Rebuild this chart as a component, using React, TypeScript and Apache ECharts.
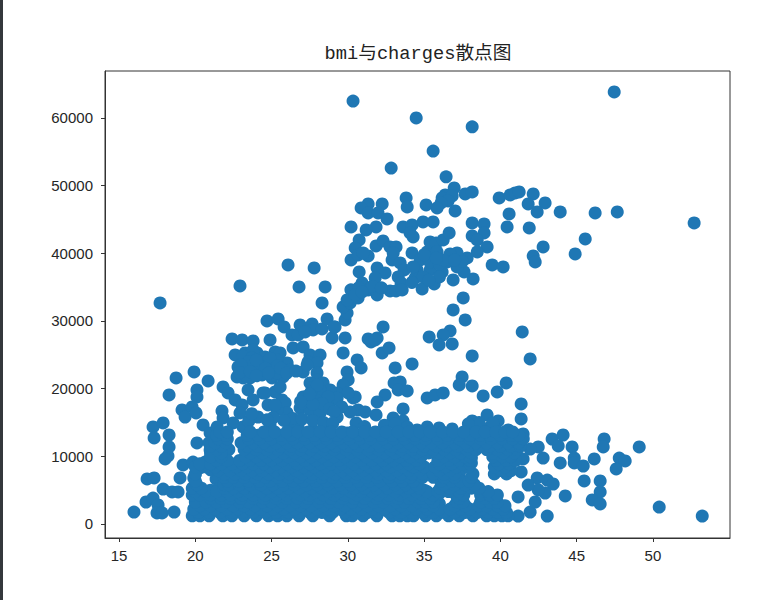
import React, { useEffect, useRef } from "react";
import * as echarts from "echarts";

const chartTitle = "bmi与charges散点图";
const xTickValues = [15, 20, 25, 30, 35, 40, 45, 50];
const yTickValues = [0, 10000, 20000, 30000, 40000, 50000, 60000];

// [bmi, charges]
const upperCluster = [
  [30.34, 62500], [34.48, 60000], [38.15, 58700], [47.46, 63850], [35.59, 55100], [32.84, 52600], [36.44, 51300],
  [36.97, 49660], [37.69, 48770], [38.15, 49070], [36.38, 48630], [36.18, 48180], [36.84, 48480], [36.57, 47740],
  [36.11, 47440], [37.03, 46260], [35.85, 46700], [35.13, 47150], [33.82, 48180], [33.89, 46850], [32.25, 47300],
  [31.33, 47300], [30.87, 46700], [31.33, 45970], [31.98, 45970], [32.57, 45080], [30.21, 43900], [31.85, 43900],
  [31.2, 43450], [30.74, 41980], [30.48, 40790], [30.21, 39020], [30.67, 39760], [31.33, 39610], [31.0, 40050],
  [31.85, 41090], [32.31, 41830], [32.77, 40940], [33.16, 40940], [32.9, 39020], [32.97, 40050], [33.43, 38580],
  [33.69, 37540], [33.3, 36510], [33.49, 35620], [30.74, 37250], [31.92, 37840], [32.44, 37100], [31.79, 36360],
  [30.93, 35620], [31.33, 34590], [31.92, 33850], [32.77, 34440], [33.16, 34440], [33.56, 34590], [34.87, 34730],
  [35.66, 35470], [36.9, 36060], [38.21, 36210], [37.62, 37250], [37.16, 37980], [36.18, 37250], [35.39, 37540],
  [34.41, 36360], [34.54, 37540], [34.93, 36510], [34.21, 40050], [34.74, 39020], [34.28, 37980], [35.2, 40200],
  [35.39, 41680], [35.79, 41530], [36.25, 41980], [36.64, 43010], [33.62, 43900], [34.21, 44190], [34.08, 43010],
  [34.28, 42420], [34.93, 44630], [35.59, 44630], [38.15, 44490], [38.93, 44340], [38.93, 43010], [38.15, 42570],
  [38.48, 41980], [39.13, 40940], [38.48, 40200], [37.82, 39310], [37.16, 40050], [36.7, 39910], [36.51, 38720],
  [35.85, 40200], [35.39, 38720], [39.46, 38280], [40.18, 37980], [39.92, 48180], [40.64, 48630], [40.97, 48920],
  [41.23, 49070], [42.15, 48770], [41.82, 47300], [42.93, 47440], [42.41, 46110], [43.92, 46110], [46.21, 45970],
  [47.66, 46110], [52.7, 44490], [40.57, 45820], [40.44, 43900], [41.89, 43750], [42.8, 40940], [42.15, 39610],
  [42.28, 38720], [44.9, 39910], [45.56, 42120], [36.0, 38400],
  [36.3, 39000], [35.0, 39800], [35.8, 39300], [36.0, 36500], [35.3, 36000], [34.2, 35700], [31.6, 35100],
  [32.2, 34900], [30.2, 34600], [30.7, 34900], [37.5, 38800], [37.0, 39000],
];

const middleRight = [
  [37.56, 33400], [36.9, 31630], [37.69, 30150], [41.43, 28380], [32.31, 29120], [35.33, 27640], [36.7, 28530],
  [36.25, 27930], [35.98, 26460], [36.84, 26600], [31.92, 27490], [31.33, 27340], [31.52, 26900], [29.82, 27490],
  [29.82, 30150], [29.95, 31190], [29.69, 32070], [30.15, 32660], [30.28, 33550], [30.67, 33400], [29.95, 33110],
  [30.48, 33850], [30.93, 34290], [29.16, 29120], [28.97, 27490], [31.79, 27190], [32.25, 25270], [32.7, 26010],
  [33.1, 23060], [34.21, 23650], [33.03, 20840], [33.43, 20990], [33.3, 19810], [33.89, 19660], [32.44, 19070],
  [31.92, 18030], [31.85, 16110], [33.62, 17000], [32.97, 15670], [33.62, 15220], [30.54, 14930], [30.67, 16850],
  [30.15, 16550], [31.13, 16550], [29.3, 15810], [30.34, 18620], [35.2, 18620], [35.72, 19070], [36.25, 19360],
  [37.49, 21730], [37.3, 20540], [38.15, 20400], [38.87, 18920], [39.79, 19510], [40.38, 20840], [38.15, 24830],
  [41.95, 24390], [41.36, 17740], [41.36, 15520], [41.49, 13300], [39.13, 16110], [38.15, 15220], [39.85, 15220],
  [40.51, 13890], [35.2, 14340], [35.98, 14190], [36.84, 14040], [38.15, 14340], [39.33, 14340], [39.66, 14040],
  [38.6, 15000], [39.5, 14900], [37.9, 14800], [32.4, 14600], [33.1, 14800], [33.9, 14300], [31.1, 14400],
];

const middleLeft = [
  [17.69, 32660], [22.93, 35180], [26.08, 38280], [27.79, 37840], [26.8, 35030], [28.51, 35030], [28.31, 32660],
  [24.7, 30000], [25.43, 30300], [25.82, 29120], [26.34, 27930], [26.74, 27930], [26.87, 29410], [27.66, 29560],
  [27.72, 28670], [28.31, 28820], [28.64, 30300], [29.1, 29120], [27.2, 28380], [22.41, 27340], [23.07, 27200],
  [23.79, 27050], [24.9, 27200], [26.41, 26010], [27.07, 26160], [27.52, 24980], [28.18, 24980], [27.39, 23940],
  [27.98, 23800], [22.61, 24980], [23.26, 25270], [24.05, 25270], [25.23, 25420], [23.79, 25720], [24.57, 24680],
  [25.56, 25270], [26.02, 23800], [23.13, 24830], [23.72, 24530], [24.44, 23800], [24.9, 23800], [24.05, 23200],
  [25.1, 22760], [24.38, 22020], [25.03, 21580], [23.59, 21580], [22.8, 23200], [22.74, 21730], [23.13, 21580],
  [25.75, 21730], [23.39, 21730], [24.44, 22320], [25.36, 22320], [26.21, 22760], [27.07, 22470], [27.98, 22320],
  [27.33, 23500], [25.36, 24240], [29.69, 25270], [30.61, 24240], [30.87, 23060], [29.95, 22470], [30.02, 21280],
  [29.69, 20540], [29.3, 19360], [30.48, 18770], [30.02, 19360], [27.98, 21280], [27.52, 20840], [28.38, 20840],
  [28.84, 19810], [27.2, 18770], [27.72, 18770], [28.38, 18770], [29.03, 18330], [27.39, 17290], [28.05, 17290],
  [28.64, 17880], [26.87, 17140], [27.52, 16850], [28.18, 16410], [29.3, 18620], [27.66, 20100], [28.18, 19810],
  [27.07, 18770], [21.82, 20250], [22.15, 19360], [22.61, 18330], [23.07, 17590], [23.79, 18330], [24.44, 19360],
  [25.23, 19510], [25.56, 20250], [25.69, 18330], [23.46, 19810], [24.57, 19360], [25.89, 17880], [21.75, 16700],
  [21.82, 15670], [22.93, 16410], [24.11, 15810], [26.02, 16410], [23.13, 14340], [22.48, 14930], [25.36, 16850],
  [24.77, 17590], [25.23, 17590], [24.9, 14630], [26.41, 14480], [26.74, 14340], [27.72, 13890], [28.84, 14340],
  [29.95, 13450], [34.54, 13890],
  [23.5, 24000], [24.0, 24200], [24.9, 24500], [23.0, 23500], [24.6, 23000], [25.4, 23400],
  [22.9, 22400], [23.6, 22500], [24.0, 21900], [24.8, 22300], [25.6, 23000], [26.0, 22300],
  [26.6, 22600], [27.6, 19500], [28.0, 18200], [27.0, 17900], [28.7, 18800], [28.3, 17800], [27.7, 17700],
  [28.0, 20500], [27.5, 19200], [26.9, 18100], [28.8, 17000], [29.6, 17300], [29.1, 16600], [26.4, 15600],
  [27.0, 15500], [27.7, 15300], [28.4, 15000], [29.0, 14900], [25.8, 15300], [25.1, 15700], [24.7, 15400],
  [23.5, 15200], [23.7, 16300],
];

const leftEdge = [
  [15.98, 1770], [16.77, 3250], [17.23, 3840], [17.56, 2810], [17.49, 1630], [17.82, 1630], [18.61, 1770],
  [16.84, 6650], [17.3, 6800], [17.89, 5170], [18.48, 4730], [18.87, 4730], [17.23, 14340], [17.89, 14930],
  [17.3, 12710], [18.28, 13150], [18.28, 11380], [18.21, 10050], [18.02, 9610], [20.11, 11970], [20.51, 14630],
  [18.74, 21580], [19.92, 22470], [20.84, 21140], [18.28, 19070], [20.11, 19810], [20.11, 18770], [19.13, 16850],
  [19.33, 15810], [19.79, 17290], [20.05, 16410], [19.0, 6800], [19.2, 8720], [19.85, 9160], [20.64, 9160],
  [20.97, 10940], [20.97, 13450], [21.43, 14340], [19.98, 7240], [21.36, 6650],
  [21.0, 5000], [21.5, 5200], [20.0, 6000], [19.9, 6800], [20.3, 8300], [21.0, 8000], [22.4, 7400], [22.3, 6400],
  [21.9, 6200], [20.9, 12000], [21.5, 10200], [21.2, 9300], [20.9, 9400], [21.0, 10500], [21.6, 12300], [22.2, 11000],
];

const rightEdge = [
  [43.39, 12560], [44.11, 13150], [43.79, 11530], [44.7, 11380], [46.8, 12560], [46.74, 11380], [49.1, 11380],
  [42.48, 11380], [41.95, 11080], [42.8, 9750], [41.49, 9610], [43.92, 9020], [44.84, 9750], [44.84, 9020],
  [45.43, 8570], [46.15, 9610], [47.79, 9750], [48.18, 9310], [47.59, 8130], [45.49, 6360], [46.54, 6360],
  [46.54, 4730], [46.02, 3550], [46.54, 2960], [44.25, 4140], [43.07, 1180], [41.95, 1770], [41.16, 1180],
  [41.16, 3990], [42.28, 3250], [42.41, 6800], [43.07, 6500], [43.46, 5910], [42.93, 4580], [42.48, 5030],
  [41.82, 5760], [41.36, 7690], [50.41, 2510], [53.23, 1180],
];

const holeEdges = [
  [38.0, 6000], [37.3, 7200], [37.4, 8000], [38.1, 9000], [38.1, 9800], [36.0, 10000], [35.7, 10500], [36.1, 9800],
  [36.2, 8000], [35.9, 7500], [34.9, 7600], [35.0, 5000], [36.0, 3000], [37.0, 4700], [36.0, 4500], [38.9, 2000],
];

// Dense lower mass: bmi readings grouped by the charges level they sit on.
const bmiAt1200 = [19.8, 20.3, 20.9, 21.8, 22.4, 23.2, 24.0, 24.8, 25.4, 26.0, 26.8, 27.7, 28.8, 29.9, 30.3, 31.0, 31.9, 32.9, 33.4, 33.9, 34.3, 35.1, 35.8, 36.6, 37.3, 38.2, 39.1, 39.6, 40.1, 40.5];
const bmiAt1700 = [20.2, 20.9, 21.6, 22.4, 23.1, 23.8, 24.6, 25.3, 26.1, 26.8, 27.5, 28.3, 29.0, 29.8, 30.5, 31.3, 32.0, 32.7, 33.5, 34.2, 34.9, 35.6, 36.3, 37.0, 37.7, 38.5, 39.2, 39.8, 40.4];
const bmiAt2200 = [19.9, 20.6, 21.3, 22.1, 22.8, 23.6, 24.3, 25.1, 25.8, 26.5, 27.3, 28.0, 28.7, 29.5, 30.2, 30.9, 31.6, 32.4, 33.1, 33.8, 34.5, 35.2, 36.0, 36.7, 37.4, 38.0, 38.8, 39.5, 40.2];
const bmiAt2700 = [20.3, 21.0, 21.7, 22.5, 23.2, 23.9, 24.7, 25.4, 26.2, 26.9, 27.6, 28.4, 29.1, 29.8, 30.6, 31.3, 32.0, 32.8, 33.5, 34.2, 35.0, 35.6, 37.0, 37.7, 38.6, 39.1, 39.8, 40.3];
const bmiAt3250 = [20.0, 20.7, 21.4, 22.0, 22.9, 23.5, 24.4, 25.0, 25.7, 26.6, 27.2, 28.1, 28.8, 29.4, 30.3, 31.0, 31.7, 32.3, 33.2, 33.7, 34.6, 35.1, 35.6, 37.15, 37.56, 38.7, 39.3, 39.8];
const bmiAt3800 = [21.0, 21.7, 22.3, 23.0, 23.8, 24.5, 25.3, 26.0, 26.7, 27.4, 28.2, 28.9, 29.7, 30.4, 31.1, 31.9, 32.6, 33.3, 34.0, 34.8, 35.4, 37.3, 39.0, 39.6];
const bmiAt4300 = [19.8, 20.3, 21.0, 21.7, 22.3, 23.1, 23.8, 24.6, 25.3, 26.0, 26.9, 27.5, 28.4, 29.1, 29.8, 30.6, 31.3, 32.0, 32.7, 33.4, 34.2, 34.9, 35.6, 37.1, 37.6, 38.7, 39.3, 39.8];
const bmiAt4800 = [20.0, 20.7, 21.4, 22.1, 22.8, 23.5, 24.3, 25.0, 25.7, 26.5, 27.2, 27.9, 28.7, 29.4, 30.2, 30.9, 31.6, 32.3, 33.1, 33.8, 34.5, 35.2, 35.9, 36.6, 37.3, 38.7, 39.2];
const bmiAt5300 = [19.8, 20.4, 21.9, 22.5, 23.2, 23.9, 24.7, 25.4, 26.1, 26.8, 27.6, 28.3, 29.0, 29.7, 30.4, 31.1, 31.9, 32.6, 33.3, 34.0, 34.7, 36.05, 36.7, 37.4, 38.1, 38.6];
const bmiAt5800 = [20.1, 21.9, 22.2, 22.9, 23.6, 24.3, 25.1, 25.8, 26.5, 27.3, 28.0, 28.7, 29.5, 30.2, 30.9, 31.7, 32.4, 33.1, 33.8, 34.5, 36.3, 37.0, 37.7, 38.3];
const bmiAt6350 = [20.0, 22.1, 22.8, 23.5, 24.2, 24.9, 25.7, 26.4, 27.1, 27.9, 28.6, 29.3, 30.0, 30.7, 31.4, 32.1, 32.9, 33.6, 34.3, 36.1, 36.8, 37.36, 37.95];
const bmiAt6900 = [21.9, 22.5, 23.2, 23.9, 24.6, 25.4, 26.1, 26.8, 27.6, 28.3, 29.0, 29.8, 30.5, 31.2, 31.9, 32.7, 33.4, 34.1, 34.9, 35.6, 36.3, 37.0, 38.1];
const bmiAt7400 = [20.0, 21.9, 22.6, 23.3, 24.1, 24.8, 25.5, 26.2, 27.0, 27.7, 28.4, 29.2, 29.9, 30.6, 31.3, 32.0, 32.8, 33.5, 34.2, 34.9, 35.6, 36.3, 37.0, 38.2, 39.6, 40.4];
const bmiAt7900 = [21.5, 22.3, 23.0, 23.7, 24.4, 25.2, 25.9, 26.6, 27.4, 28.1, 28.8, 29.6, 30.3, 31.0, 31.8, 32.5, 33.2, 34.0, 34.7, 36.0, 36.7, 40.0, 40.7];
const bmiAt8450 = [20.0, 20.6, 21.3, 22.0, 22.7, 23.4, 24.2, 24.9, 25.6, 26.3, 27.1, 27.8, 28.5, 29.3, 30.0, 30.7, 31.4, 32.1, 32.8, 33.6, 34.3, 35.0, 35.7, 36.4, 37.1, 37.9, 39.6, 40.3];
const bmiAt8900 = [20.3, 21.0, 21.7, 22.4, 23.1, 23.8, 24.5, 25.3, 26.0, 26.7, 27.5, 28.2, 28.9, 29.6, 30.4, 31.1, 31.8, 32.5, 33.3, 34.0, 34.7, 36.0, 36.8, 37.5, 38.0, 39.9, 40.6];
const bmiAt9400 = [21.4, 22.1, 22.9, 23.6, 24.3, 25.0, 25.7, 26.5, 27.2, 27.9, 28.7, 29.4, 30.1, 30.9, 31.6, 32.3, 33.0, 33.8, 34.5, 35.9, 36.6, 37.3, 38.0, 39.7, 40.4, 41.0];
const bmiAt9950 = [21.0, 21.7, 23.3, 24.0, 24.7, 25.4, 26.1, 26.9, 27.6, 28.3, 29.1, 29.8, 30.5, 31.2, 32.0, 32.7, 33.4, 34.1, 34.8, 36.3, 37.0, 37.7, 38.0, 39.5, 40.1, 40.7];
const bmiAt10500 = [21.7, 23.6, 24.4, 25.1, 25.8, 26.5, 27.3, 28.0, 28.7, 29.5, 30.2, 30.9, 31.6, 32.4, 33.1, 33.8, 34.5, 35.3, 36.0, 36.7, 37.4, 38.1, 39.5, 40.2, 40.9];
const bmiAt11000 = [21.4, 23.2, 24.0, 24.7, 25.4, 26.2, 26.9, 27.6, 28.4, 29.1, 29.9, 30.6, 31.3, 32.0, 32.8, 33.5, 34.2, 34.9, 35.6, 36.3, 37.1, 37.8, 38.4, 39.1, 39.8, 40.5, 41.1];
const bmiAt11500 = [21.0, 21.7, 23.4, 24.1, 24.9, 25.6, 26.3, 27.0, 27.8, 28.5, 29.2, 30.0, 30.7, 31.4, 32.1, 32.9, 33.6, 34.3, 35.0, 35.8, 36.5, 37.2, 37.9, 38.6, 39.3, 40.0, 40.7, 41.3];
const bmiAt12000 = [21.3, 22.0, 23.0, 23.8, 24.5, 25.3, 26.0, 26.7, 27.5, 28.2, 28.9, 29.7, 30.4, 31.1, 31.9, 32.6, 33.3, 34.0, 34.8, 35.5, 36.2, 37.0, 37.7, 38.4, 39.1, 39.8, 40.5, 41.2];
const bmiAt12600 = [21.5, 22.1, 23.5, 24.2, 25.0, 25.7, 26.4, 27.2, 27.9, 28.6, 29.4, 30.1, 30.8, 31.5, 32.3, 33.0, 33.7, 34.4, 35.1, 35.9, 36.6, 37.3, 38.0, 38.7, 39.4, 40.1, 40.8, 41.5];
const bmiAt13100 = [21.4, 22.0, 23.4, 24.1, 24.8, 25.6, 26.3, 27.1, 27.8, 28.5, 29.3, 30.0, 30.7, 31.4, 32.2, 32.9, 33.6, 34.4, 35.1, 35.8, 36.5, 37.3, 38.0, 38.7, 39.3, 40.0, 40.7, 41.2];
const bmiAt13600 = [21.6, 22.1, 23.6, 24.5, 25.2, 26.0, 26.7, 27.4, 28.2, 28.9, 29.6, 30.3, 31.1, 31.8, 32.5, 33.3, 34.0, 34.7, 35.4, 36.2, 36.9, 37.6, 38.4, 39.0, 39.7, 40.3, 40.8];

const denseLevels: [number, number[]][] = [
  [1200, bmiAt1200], [1700, bmiAt1700], [2200, bmiAt2200], [2700, bmiAt2700], [3250, bmiAt3250], [3800, bmiAt3800],
  [4300, bmiAt4300], [4800, bmiAt4800], [5300, bmiAt5300], [5800, bmiAt5800], [6350, bmiAt6350], [6900, bmiAt6900],
  [7400, bmiAt7400], [7900, bmiAt7900], [8450, bmiAt8450], [8900, bmiAt8900], [9400, bmiAt9400], [9950, bmiAt9950],
  [10500, bmiAt10500], [11000, bmiAt11000], [11500, bmiAt11500], [12000, bmiAt12000], [12600, bmiAt12600],
  [13100, bmiAt13100], [13600, bmiAt13600],
];

const densePoints = denseLevels.flatMap(([charge, bmis]) => bmis.map((b) => [b, charge]));
const allPoints = [...upperCluster, ...middleRight, ...middleLeft, ...leftEdge, ...rightEdge, ...holeEdges, ...densePoints];

export default function App() {
  const ref = useRef<HTMLDivElement>(null);
  useEffect(() => {
    const chart = echarts.init(ref.current!, undefined, { renderer: "svg" });
    const axisLine = { show: true, onZero: false, lineStyle: { color: "#333", width: 1 } };
    const axisTick = { show: true, length: 4, lineStyle: { color: "#333", width: 1 } };
    const labelBase = { color: "#262626", fontFamily: '"Liberation Sans", sans-serif', fontSize: 15 };
    chart.setOption({
      animation: false,
      backgroundColor: "#fff",
      title: {
        text: chartTitle,
        left: 413,
        top: 40,
        textAlign: "center",
        textStyle: {
          fontFamily: '"Liberation Mono", "Noto Sans CJK SC", monospace',
          fontSize: 18.7,
          fontWeight: "normal",
          color: "#222",
        },
      },
      grid: { left: 105, right: 54, top: 71, bottom: 62, show: true, borderColor: "#333", borderWidth: 1, backgroundColor: "#fff" },
      xAxis: {
        type: "value",
        min: 14.08,
        max: 55.05,
        splitLine: { show: false },
        axisLine,
        axisTick: { ...axisTick, customValues: xTickValues },
        axisLabel: { ...labelBase, margin: 10, customValues: xTickValues, hideOverlap: false, formatter: (v: number) => String(v) },
      },
      yAxis: {
        type: "value",
        min: -2070,
        max: 66940,
        splitLine: { show: false },
        axisLine,
        axisTick: { ...axisTick, customValues: yTickValues },
        axisLabel: { ...labelBase, margin: 12, customValues: yTickValues, hideOverlap: false, formatter: (v: number) => String(v) },
      },
      graphic: [
        { type: "rect", shape: { x: 0, y: 0, width: 3, height: 600 }, style: { fill: "#34383c" }, silent: true },
      ],
      series: [
        {
          type: "scatter",
          data: allPoints,
          symbol: "circle",
          symbolSize: 13,
          itemStyle: { color: "#1f77b4", opacity: 1 },
          progressive: 0,
        },
      ],
    });
    return () => chart.dispose();
  }, []);
  return <div ref={ref} style={{ position: "absolute", left: 0, top: 0, width: 784, height: 600 }} />;
}
